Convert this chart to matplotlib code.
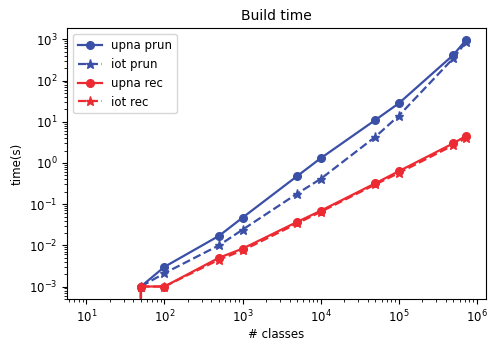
import matplotlib
matplotlib.use("Agg")
import matplotlib.pyplot as plt

# number of classes (first point has zero time, clipped on the log axis)
classes = [10, 50, 100, 500, 1000, 5000, 10000, 50000, 100000, 500000, 720000]

upna_prun = [0, 1.0e-3, 3.0e-3, 0.017, 0.047, 0.48, 1.3, 11, 28, 420, 950]
iot_prun = [0, 1.0e-3, 2.1e-3, 0.010, 0.024, 0.18, 0.41, 4.3, 14, 350, 850]
upna_rec = [0, 1.0e-3, 1.0e-3, 0.005, 0.0083, 0.037, 0.069, 0.32, 0.63, 3.0, 4.5]
iot_rec = [0, 1.0e-3, 1.0e-3, 0.0045, 0.0075, 0.034, 0.065, 0.30, 0.57, 2.7, 4.0]

y_ticks = [1e-3, 1e-2, 1e-1, 1e0, 1e1, 1e2, 1e3]
x_ticks = [1e1, 1e2, 1e3, 1e4, 1e5, 1e6]

blue = "#3a4fa6"
red = "#ec2a32"

fig, ax = plt.subplots(figsize=(4.88, 3.44), dpi=100)

ax.plot(classes, upna_prun, "-o", color=blue, lw=1.6, ms=5.5, label="upna prun")
ax.plot(classes, iot_prun, "--*", color=blue, lw=1.6, ms=6.5, label="iot prun")
ax.plot(classes, upna_rec, "-o", color=red, lw=1.6, ms=5.5, label="upna rec")
ax.plot(classes, iot_rec, "--*", color=red, lw=1.6, ms=6.5, label="iot rec")

ax.set_xscale("log")
ax.set_yscale("log", nonpositive="clip")
ax.set_yticks(y_ticks)
ax.set_xticks(x_ticks)
ax.set_xlim(10 ** 0.757, 10 ** 6.11)
ax.set_ylim(10 ** -3.31, 10 ** 3.27)

ax.set_title("Build time", fontsize=10)
ax.set_xlabel("# classes", fontsize=8.5, labelpad=2)
ax.set_ylabel("time(s)", fontsize=8.5)
ax.tick_params(labelsize=8.5)
ax.legend(loc="upper left", fontsize=8.5)

fig.subplots_adjust(left=0.138, right=0.995, top=0.918, bottom=0.13)
fig.savefig("out.png", dpi=100)
